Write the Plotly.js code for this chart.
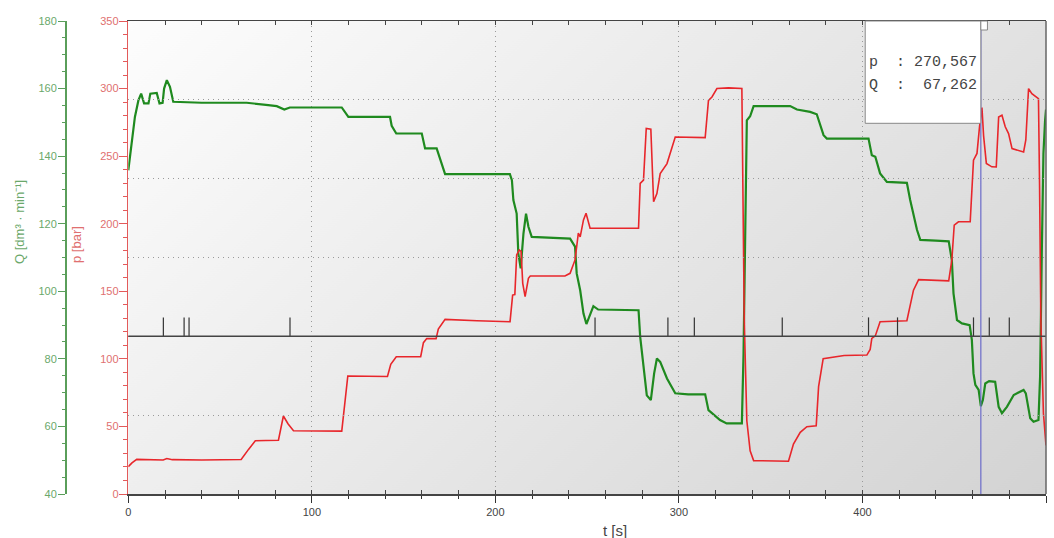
<!DOCTYPE html>
<html>
<head>
<meta charset="utf-8">
<script src="https://cdn.plot.ly/plotly-3.0.1.min.js"></script>
<style>
html,body{margin:0;padding:0;background:#fff;}
#chart{width:1054px;height:538px;}
</style>
</head>
<body>
<div id="chart"></div>
<script>
// ---------- data ----------
const tP = [0,2,4.6,10,19,21,24,40,60,61.5,65.5,69.2,75,81.8,84.5,87,90,100,116.3,119.6,130,141.2,143,146,159.3,160.8,162.6,167.7,168.9,172.6,190,208,209.4,210.6,211.6,213,214,214.9,216.2,218,219,237.9,240.7,243.4,245.2,246.2,248,249.4,251.6,265,278,278.9,280.7,282.2,284.7,286.2,288,289.8,293.5,298,305,314.3,316.1,318,320.7,327,334.3,334.8,335.6,337,338.8,340.7,350,359.7,362.4,366.1,369.7,374.8,376.1,378.6,390,402.4,404.2,405.1,407,409.6,424.2,426,427.8,430.6,447,448.7,450,452.3,458.7,460.5,462.4,463.8,465.1,466,467.5,470.5,472.9,474.2,476,477.8,479.6,481.5,487.8,489,490.5,492.3,495.9,496.5,497.2,498.6,499.7,500];
const pBar = [20.2,23,25.6,25.3,25.2,26.3,25.4,25.2,25.0,25.5,33,39.4,39.6,39.8,57.7,52,46.8,46.5,46.5,87.3,87.3,87.0,96,101.6,101.6,112,115.1,115,122,129.2,128.2,127.5,147.2,147.5,176.9,180.6,179.5,155.9,146,159.6,161.3,161.3,163.3,173.2,193,190.3,202.8,207.7,196.6,196.6,196.6,229.8,232.3,270.5,270,216.2,222.3,237.1,244.5,264.2,264,263.7,291.3,293.8,300,300.5,300,212.5,128.7,54.2,32,24.7,24.3,24.2,37,45.6,49.8,50.5,79.4,100.2,102.5,102.8,107,115.1,117,127.5,128.2,138.5,150.8,158.6,157.7,173.2,199,201.4,201.4,247,252,272,286,265,244.6,242.1,242,279,280.3,271.7,266.7,255.6,253.1,262,300,296.3,292.6,227.3,128.7,59.7,37.5,36];

const tQ = [0,1.8,3.6,5.5,7,8.6,11,12,15.5,17,18.7,19.5,21,22.7,24.5,40,64.5,75,80.9,85,88,100,116.3,119.9,130,142.6,143.5,146,159.9,161.7,168,172.6,190,207.9,209,209.8,211.6,212.5,213.8,215.3,216.7,218,219.8,230,240.7,243.4,244.3,246.2,248,249.6,251.6,253.4,256,270,278,278.9,280.7,282.5,284.7,286.5,288,289.8,293.5,298,305,314.3,316.1,322.4,326,334.3,335.2,336.1,337,338.8,340.7,350,360.6,364.3,371.5,375.1,377,378.8,380.6,390,403.3,405.1,407,409.6,413.3,424.2,426,429.7,431.5,440,447,448.7,449.6,451.5,454.2,458.4,459.6,460.5,461.5,463.3,464.5,465.6,466.9,469,472.3,474.2,476,478.7,482.4,487.8,489,491.4,493.2,495.9,496.8,497.7,498.6,499.5,500];
const qFlow = [135.8,143.7,151.6,156.5,158.5,155.6,155.6,158.5,158.7,155.6,155.8,160,162.5,160.5,156.1,155.8,155.8,155.2,154.8,153.8,154.4,154.4,154.4,151.6,151.6,151.6,149,146.7,146.7,142.3,142.3,134.7,134.7,134.7,132.9,127.0,123.0,111.2,106.8,117.1,123.0,119.1,116.1,115.8,115.6,113.2,105.3,100.3,93.4,90.3,93.4,95.6,94.6,94.4,94.4,86.5,77.7,69.2,67.8,75.7,80.1,79.1,74.2,69.8,69.5,69.5,64.8,61.9,60.9,60.9,81.5,121,150.6,151.8,154.8,154.8,154.8,153.8,153.1,152.4,149.5,146.2,145.2,145.2,145.2,140.3,139.8,134.9,132.4,132.1,127,118.2,115.2,115,114.8,109.2,99.4,91.5,90.5,90,85.6,75.7,72.3,70.8,66,67.8,72.7,73.4,73.2,65.8,63.9,65.8,69.3,70.8,69.8,62.4,61.4,61.9,75,111.2,140.8,150.6,153.8];

const eventTimes = [19.1,30.4,33.1,88.1,254.3,294,308.4,356.3,403.3,419.1,460.5,469.1,480];
const cursorT = 464.5;
const tipLines = ['p\u00a0\u00a0:\u00a0270,567', 'Q\u00a0\u00a0:\u00a0\u00a067,262'];

const xTitle = 't [s]';
const pTitle = 'p [bar]';
const qTitle = 'Q [dm³ · min⁻¹]';

// ---------- layout geometry ----------
const W = 1054, H = 538;
const mL = 0, mR = 8, mT = 21, mB = 44;
const PW = W - mL - mR, PH = H - mT - mB;
const plotLeftPx = 128.3;
const xd0 = plotLeftPx / PW;
const qAxisPx = 65;
function px2x(px){ return px / PW; }
function py2y(py){ return (H - mB - py) / PH; }

const RED = '#e8262b', GREEN = '#1f8a1f';
const RED_AX = '#e35a5a', GREEN_AX = '#5a9e5a';
const FONT = 'Liberation Sans, Arial, sans-serif';
const GRID = '#9a9a9a';

function makeBg(){
  const w = Math.round(PW*(1-xd0)), h = PH;
  const c = document.createElement('canvas'); c.width = w; c.height = h;
  const g = c.getContext('2d');
  const gr = g.createLinearGradient(0,0,w*0.8,h*1.6);
  gr.addColorStop(0,'#fdfdfd'); gr.addColorStop(1,'#d0d0d0');
  g.fillStyle = gr; g.fillRect(0,0,w,h);
  return c.toDataURL('image/png');
}

// event marker segments
const evX = [], evY = [];
eventTimes.forEach(t => { evX.push(t, t, null); evY.push(2, 2.24, null); });

const traces = [
  {x: tQ, y: qFlow, xaxis:'x', yaxis:'y2', mode:'lines', line:{color:GREEN, width:2.2}, hoverinfo:'skip'},
  {x: tP, y: pBar, xaxis:'x', yaxis:'y3', mode:'lines', line:{color:RED, width:1.6}, hoverinfo:'skip'},
  {x: evX, y: evY, xaxis:'x', yaxis:'y4', mode:'lines', line:{color:'#333', width:1.2}, hoverinfo:'skip'},
  {x: [], y: [], xaxis:'x2', yaxis:'y', mode:'lines', hoverinfo:'skip'}
];

const layout = {
  width: W, height: H,
  margin: {l:mL, r:mR, t:mT, b:mB, pad:0},
  paper_bgcolor:'#ffffff', plot_bgcolor:'rgba(0,0,0,0)',
  showlegend:false,
  font:{family:FONT, size:11, color:'#444'},
  xaxis: {domain:[xd0,1], range:[0,500], anchor:'y', tick0:0, dtick:100,
    ticks:'outside', ticklen:7, tickwidth:1, tickcolor:'#333',
    minor:{dtick:20, ticks:'outside', ticklen:3, tickcolor:'#333', showgrid:false},
    showline:true, linecolor:'#333', linewidth:1.5,
    showgrid:true, gridcolor:GRID, griddash:'1px,4px', gridwidth:1, zeroline:false,
    tickfont:{size:11, color:'#444'}, fixedrange:true},
  xaxis2: {overlaying:'x', range:[0,500], anchor:'y', tick0:0, dtick:20,
    ticks:'inside', ticklen:4, tickcolor:'#444', showticklabels:false,
    showgrid:false, zeroline:false, showline:true, linecolor:'#444', linewidth:1.5, mirror:'ticks', fixedrange:true},
  yaxis: {domain:[0,1], range:[0,350], anchor:'x', side:'left', tick0:0, dtick:50,
    ticks:'outside', ticklen:8, tickwidth:1, tickcolor:RED_AX,
    minor:{dtick:10, ticks:'outside', ticklen:4, tickcolor:RED_AX, showgrid:false},
    showline:true, linecolor:RED_AX, linewidth:1.5, showgrid:false, zeroline:false,
    ticklabelstandoff:-2,
    tickfont:{size:11, color:'#e07070'}, fixedrange:true},
  yaxis2: {overlaying:'y', anchor:'free', position:px2x(qAxisPx), side:'left',
    range:[40,180], tick0:40, dtick:20,
    ticks:'outside', ticklen:7, tickwidth:1, tickcolor:GREEN_AX,
    minor:{dtick:5, ticks:'outside', ticklen:3.5, tickcolor:GREEN_AX, showgrid:false},
    showline:true, linecolor:GREEN_AX, linewidth:1.5, showgrid:false, zeroline:false,
    ticklabelstandoff:-1,
    tickfont:{size:11, color:'#6aa86a'}, fixedrange:true},
  yaxis3: {overlaying:'y', range:[0,350], visible:false, fixedrange:true},
  yaxis4: {overlaying:'y', anchor:'x', side:'right', range:[0,6], dtick:1, tick0:0,
    showgrid:true, gridcolor:GRID, griddash:'1px,4px', gridwidth:1,
    showticklabels:false, ticks:'', showline:false, zeroline:false, fixedrange:true},
  images: [{source: makeBg(), xref:'paper', yref:'paper', x:xd0, y:1, sizex:1-xd0, sizey:1,
    xanchor:'left', yanchor:'top', sizing:'stretch', layer:'below'}],
  shapes: [
    {type:'line', xref:'x domain', yref:'y4', x0:0, x1:1, y0:2, y1:2, line:{color:'#444', width:1.5}, layer:'above'},
    {type:'line', xref:'x domain', yref:'y domain', x0:1, x1:1, y0:0, y1:1, line:{color:'#666', width:1.5}, layer:'above'},
    {type:'line', xref:'x', yref:'y domain', x0:cursorT, x1:cursorT, y0:0, y1:1, line:{color:'#6b6bc9', width:1.2}, layer:'above'},
    {type:'rect', xref:'x', yref:'y domain', x0:cursorT-63, x1:cursorT, y0:py2y(123.3), y1:1,
      fillcolor:'#ffffff', line:{color:'#888', width:1}, layer:'above'},
    {type:'rect', xref:'x', yref:'y domain', x0:cursorT, x1:cursorT+3.6, y0:py2y(30), y1:1,
      fillcolor:'#ffffff', line:{color:'#888', width:1}, layer:'above'}
  ],
  annotations: [
    {text:tipLines[0], xref:'x', yref:'paper', x:cursorT-61.8, y:py2y(62.3), xanchor:'left', yanchor:'middle',
      showarrow:false, font:{family:'Liberation Mono, Courier New, monospace', size:15, color:'#444'}},
    {text:tipLines[1], xref:'x', yref:'paper', x:cursorT-61.8, y:py2y(85), xanchor:'left', yanchor:'middle',
      showarrow:false, font:{family:'Liberation Mono, Courier New, monospace', size:15, color:'#444'}},
    {text:qTitle, xref:'paper', yref:'paper', x:px2x(19), y:py2y(222), textangle:-90,
      xanchor:'center', yanchor:'middle', showarrow:false, font:{family:FONT, size:13, color:'#6aa86a'}},
    {text:pTitle, xref:'paper', yref:'paper', x:px2x(76), y:py2y(245), textangle:-90,
      xanchor:'center', yanchor:'middle', showarrow:false, font:{family:FONT, size:13, color:'#e07070'}},
    {text:xTitle, xref:'paper', yref:'paper', x:px2x(615), y:py2y(530),
      xanchor:'center', yanchor:'middle', showarrow:false, font:{family:FONT, size:15, color:'#444'}}
  ]
};

Plotly.newPlot('chart', traces, layout, {staticPlot:true, displayModeBar:false});
</script>
</body>
</html>
